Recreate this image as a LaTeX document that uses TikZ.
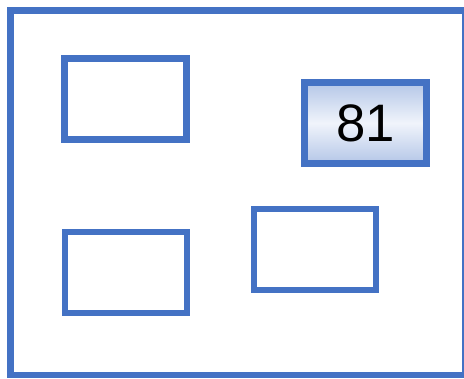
\documentclass[tikz,border=0pt]{standalone}
\usepackage{fontspec}
\setmainfont{Liberation Sans}
\definecolor{boxblue}{HTML}{4472C4}
\definecolor{shadeedge}{HTML}{B4C6E7}
\definecolor{shademid}{HTML}{F0F4FB}
\tikzset{
  slot/.style={draw=boxblue, line width=3.7pt, minimum width=2.44cm, minimum height=1.62cm, inner sep=0pt},
  filled/.style={slot, top color=shadeedge, bottom color=shadeedge, middle color=shademid}
}

\begin{document}
\begin{tikzpicture}
		\useasboundingbox (0, 0) rectangle (9.28, 7.56);
		\draw[boxblue, line width=3.7pt] (0.21, 0.06) rectangle (9.30, 7.35);
		\node[slot] (topleft) at (2.51, 5.58) {};
		\node[slot] (bottomleft) at (2.52, 2.11) {};
		\node[slot] (bottomright) at (6.30, 2.57) {};
		\node[filled, font=\fontsize{30}{36}\selectfont] (value) at (7.31, 5.10) {81};
	\end{tikzpicture}
\end{document}
